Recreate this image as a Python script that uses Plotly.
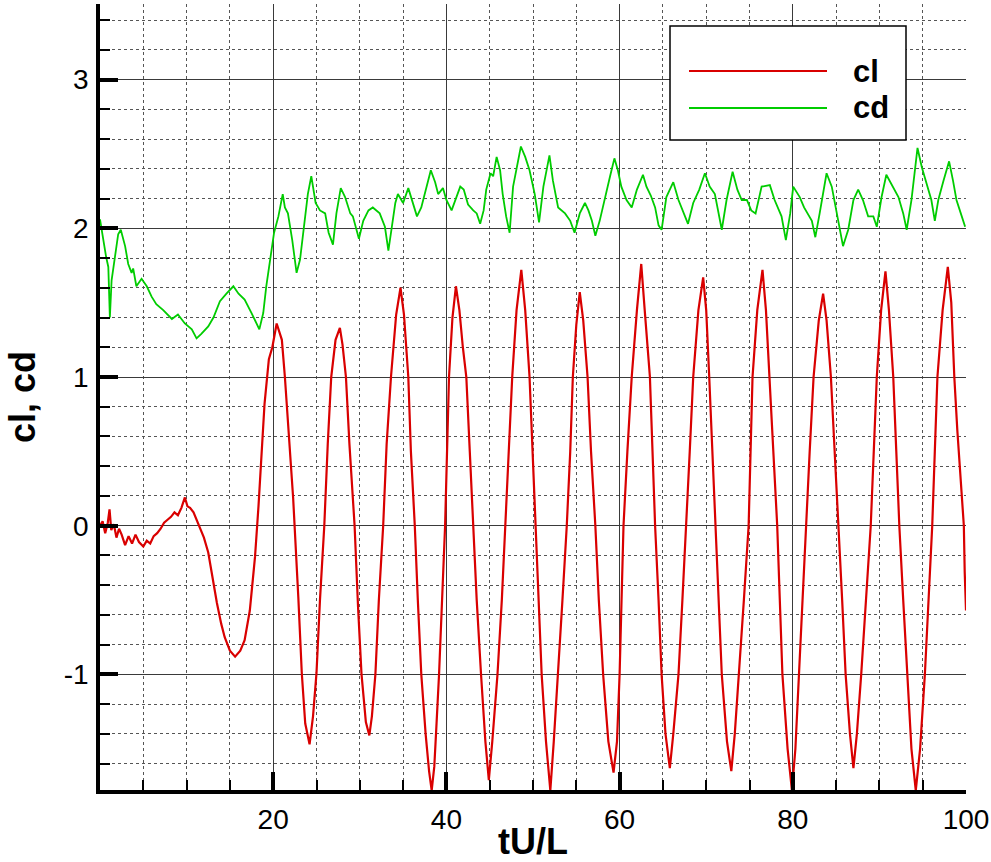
import plotly.graph_objects as go

# ---------------- data ----------------
series_names = ["cl", "cd"]

cl_t = [0.0, 0.3, 0.6, 0.9, 1.1, 1.3, 1.6, 1.9, 2.2, 2.5, 2.9, 3.3, 3.7, 4.1, 4.5, 5.0, 5.4, 5.8, 6.2, 6.6,
        7.0, 7.4, 7.8, 8.2, 8.6, 9.0, 9.4, 9.8, 10.1, 10.4, 10.8, 11.2, 11.6, 12.0, 12.5, 13.0, 13.5, 14.0,
        14.4, 15.0, 15.6, 16.2, 16.7, 17.3, 17.9, 18.3, 18.85, 19.0, 19.5, 19.9, 20.4, 21.0, 21.35, 21.7,
        22.3, 22.9, 23.3, 23.7, 24.2, 24.6, 25.0, 25.4, 25.9, 26.3, 26.7, 27.2, 27.7, 28.0, 28.4, 28.8,
        29.4, 29.8, 30.2, 30.7, 31.1, 31.4, 31.8, 32.2, 32.7, 33.1, 33.6, 34.2, 34.7, 35.1, 35.6, 35.9,
        36.35, 36.7, 37.1, 37.6, 38.0, 38.3, 38.6, 38.8, 39.15, 39.5, 39.85, 40.3, 40.7, 41.1, 41.5, 41.9,
        42.3, 42.7, 43.1, 43.5, 44.0, 44.5, 44.9, 45.3, 45.9, 46.4, 46.8, 47.2, 47.6, 48.1, 48.65, 49.1,
        49.6, 49.95, 50.3, 50.7, 51.0, 51.5, 52.0, 52.4, 52.9, 53.4, 53.9, 54.3, 54.6, 55.0, 55.4, 55.8,
        56.3, 56.7, 57.2, 57.6, 58.1, 58.7, 59.3, 59.7, 60.0, 60.2, 60.45, 60.9, 61.4, 62.0, 62.5, 62.9,
        63.5, 63.8, 64.1, 64.5, 64.85, 65.3, 65.8, 66.2, 66.8, 67.25, 67.7, 68.1, 68.5, 69.1, 69.65, 70.0,
        70.35, 70.7, 71.1, 71.45, 71.8, 72.4, 72.9, 73.3, 73.8, 74.35, 74.9, 75.1, 75.35, 75.9, 76.5, 76.9,
        77.3, 77.75, 78.2, 78.5, 78.8, 79.4, 79.9, 80.3, 80.7, 81.1, 81.5, 81.95, 82.4, 83.0, 83.5, 83.9,
        84.4, 84.85, 85.3, 85.7, 86.1, 86.6, 87.0, 87.4, 87.9, 88.45, 89.0, 89.35, 89.7, 90.2, 90.7, 91.1,
        91.6, 91.95, 92.3, 92.75, 93.2, 93.7, 94.2, 94.7, 95.25, 95.7, 96.1, 96.4, 96.7, 97.3, 97.9, 98.3,
        98.65, 99.0, 99.4, 99.75, 99.85, 99.9, 100.0]
cl_v = [0.00, 0.03, -0.05, 0.02, 0.11, -0.03, 0.01, -0.08, -0.02, -0.06, -0.13, -0.07, -0.12, -0.06, -0.11,
        -0.14, -0.10, -0.12, -0.07, -0.05, -0.02, 0.02, 0.04, 0.06, 0.09, 0.07, 0.12, 0.19, 0.13, 0.12, 0.09,
        0.03, -0.02, -0.08, -0.18, -0.35, -0.52, -0.66, -0.75, -0.84, -0.88, -0.84, -0.77, -0.57, -0.21, 0.13,
        0.64, 0.82, 1.12, 1.20, 1.36, 1.25, 1.00, 0.71, 0.19, -0.48, -0.99, -1.33, -1.47, -1.28, -0.99, -0.50,
        0.00, 0.55, 1.00, 1.25, 1.33, 1.22, 1.00, 0.55, 0.00, -0.55, -1.00, -1.32, -1.41, -1.28, -1.00, -0.50,
        0.00, 0.55, 1.00, 1.42, 1.60, 1.42, 1.00, 0.50, 0.00, -0.50, -1.00, -1.40, -1.65, -1.78, -1.62, -1.40,
        -1.00, -0.50, 0.00, 1.00, 1.40, 1.61, 1.45, 1.20, 1.00, 0.50, 0.00, -0.50, -1.00, -1.45, -1.71, -1.45,
        -1.00, -0.50, 0.00, 0.55, 1.00, 1.45, 1.72, 1.45, 1.00, 0.50, 0.00, -0.50, -1.00, -1.45, -1.78, -1.45,
        -1.00, -0.50, 0.00, 0.50, 1.00, 1.35, 1.57, 1.38, 1.00, 0.50, 0.00, -0.50, -1.00, -1.45, -1.66, -1.45,
        -1.00, -0.50, 0.00, 0.50, 1.00, 1.45, 1.76, 1.45, 1.00, 0.50, 0.00, -0.50, -1.00, -1.40, -1.63, -1.40,
        -1.00, -0.50, 0.00, 0.50, 1.00, 1.45, 1.67, 1.45, 1.00, 0.50, 0.00, -0.50, -1.00, -1.45, -1.65, -1.40,
        -1.00, -0.50, 0.00, 0.50, 1.00, 1.45, 1.72, 1.45, 1.00, 0.50, 0.00, -0.50, -1.00, -1.50, -1.78, -1.50,
        -1.00, -0.50, 0.00, 0.50, 1.00, 1.38, 1.56, 1.38, 1.00, 0.50, 0.00, -0.50, -1.00, -1.40, -1.63, -1.40,
        -1.00, -0.50, 0.00, 0.50, 1.00, 1.45, 1.71, 1.45, 1.00, 0.50, 0.00, -0.50, -1.00, -1.50, -1.78, -1.50,
        -1.00, -0.50, 0.00, 0.50, 1.00, 1.45, 1.74, 1.50, 1.00, 0.64, 0.30, 0.00, -0.31, -0.41, -0.57]

cd_t = [0.0, 0.4, 0.7, 0.96, 1.14, 1.34, 1.72, 2.1, 2.4, 2.9, 3.26, 3.65, 3.83, 4.2, 4.8, 5.4, 5.96,
        6.5, 7.3, 8.3, 9.0, 9.8, 10.6, 11.15, 11.7, 12.5, 13.1, 13.85, 14.6, 15.4, 16.0, 16.7, 17.5, 18.1,
        18.4, 18.85, 19.2, 19.7, 20.1, 20.6, 21.1, 21.35, 21.7, 22.2, 22.7, 23.1, 23.5, 24.0, 24.4, 24.9,
        25.4, 26.0, 26.4, 26.9, 27.3, 27.8, 28.3, 28.9, 29.2, 29.6, 29.9, 30.4, 31.0, 31.5, 32.3, 32.9,
        33.3, 33.7, 34.1, 34.4, 35.0, 35.6, 36.0, 36.6, 37.1, 37.7, 38.2, 38.7, 39.05, 39.6, 40.0, 40.6,
        41.0, 41.6, 42.0, 42.5, 43.1, 43.5, 43.9, 44.3, 44.6, 45.1, 45.4, 45.8, 46.2, 46.5, 46.9, 47.3,
        47.7, 48.2, 48.6, 49.1, 49.6, 50.2, 50.7, 51.2, 51.9, 52.3, 52.9, 53.7, 54.3, 54.8, 55.4, 56.0,
        56.4, 56.8, 57.2, 57.7, 58.3, 58.9, 59.4, 59.8, 60.2, 60.8, 61.4, 62.0, 62.7, 63.1, 63.6, 64.1,
        64.5, 64.85, 65.4, 66.2, 66.8, 67.3, 67.9, 68.5, 69.2, 69.85, 70.4, 71.0, 71.8, 72.35, 73.05,
        73.6, 74.1, 74.7, 75.2, 75.7, 76.4, 77.35, 77.9, 78.7, 79.2, 79.7, 80.05, 80.8, 81.3, 82.2, 82.6,
        83.1, 83.9, 84.5, 85.1, 85.8, 86.4, 87.0, 87.55, 88.1, 88.7, 89.3, 89.7, 90.25, 90.8, 91.5, 92.2,
        92.75, 93.15, 93.7, 94.1, 94.4, 94.9, 95.45, 96.0, 96.4, 96.8, 97.4, 98.05, 98.5, 98.9, 99.4, 99.9]
cd_v = [2.06, 1.90, 1.81, 1.74, 1.40, 1.65, 1.79, 1.96, 1.99, 1.88, 1.76, 1.70, 1.73, 1.61, 1.66, 1.61,
        1.54, 1.49, 1.45, 1.39, 1.42, 1.36, 1.32, 1.26, 1.29, 1.34, 1.40, 1.51, 1.56, 1.61, 1.56, 1.52, 1.43,
        1.35, 1.32, 1.43, 1.61, 1.81, 1.97, 2.08, 2.23, 2.14, 2.10, 1.92, 1.70, 1.79, 1.99, 2.23, 2.35, 2.17,
        2.12, 2.10, 1.97, 1.89, 2.10, 2.27, 2.21, 2.10, 2.08, 1.99, 1.93, 2.05, 2.12, 2.14, 2.10, 2.01, 1.85,
        2.01, 2.17, 2.23, 2.17, 2.27, 2.19, 2.08, 2.14, 2.28, 2.39, 2.31, 2.23, 2.27, 2.19, 2.12, 2.19, 2.28,
        2.26, 2.16, 2.12, 2.10, 2.03, 2.12, 2.26, 2.37, 2.35, 2.48, 2.39, 2.23, 2.08, 1.97, 2.28, 2.44, 2.55,
        2.48, 2.39, 2.23, 2.04, 2.28, 2.49, 2.32, 2.14, 2.10, 2.05, 1.97, 2.10, 2.17, 2.12, 2.05, 1.95, 2.05,
        2.19, 2.35, 2.47, 2.39, 2.28, 2.19, 2.14, 2.26, 2.36, 2.28, 2.22, 2.14, 2.02, 1.99, 2.21, 2.31, 2.19,
        2.12, 2.03, 2.17, 2.26, 2.37, 2.28, 2.23, 1.99, 2.19, 2.38, 2.26, 2.19, 2.19, 2.12, 2.10, 2.28, 2.29,
        2.19, 2.08, 1.92, 2.10, 2.28, 2.21, 2.14, 2.05, 1.94, 2.10, 2.37, 2.28, 2.10, 1.88, 1.99, 2.19, 2.26,
        2.19, 2.08, 2.08, 2.01, 2.21, 2.36, 2.28, 2.21, 2.10, 1.99, 2.19, 2.39, 2.54, 2.41, 2.30, 2.19, 2.05,
        2.19, 2.32, 2.45, 2.32, 2.19, 2.10, 2.01]

x_tick_vals = [20, 40, 60, 80, 100]
x_tick_text = ["20", "40", "60", "80", "100"]
y_tick_vals = [-1, 0, 1, 2, 3]
y_tick_text = ["-1", "0", "1", "2", "3"]

x_title = "tU/L"
y_title = "cl, cd"

# ---------------- styling ----------------
colors = ["#d90000", "#00cc00"]
FONT = "Liberation Sans, Arial, Helvetica, sans-serif"

fig = go.Figure()
fig.add_trace(go.Scatter(x=cl_t, y=cl_v, mode="lines", name=series_names[0],
                         line=dict(color=colors[0], width=2.2), showlegend=False))
fig.add_trace(go.Scatter(x=cd_t, y=cd_v, mode="lines", name=series_names[1],
                         line=dict(color=colors[1], width=1.8), showlegend=False))

axis_common = dict(
    showline=True, linecolor="black", linewidth=3.5, mirror=False,
    ticks="inside", ticklen=18, tickwidth=4, tickcolor="black",
    showgrid=True, gridcolor="#3a3a3a", gridwidth=1,
    zeroline=False, automargin=False,
    tickfont=dict(family=FONT, size=28, color="black"),
)

fig.update_xaxes(
    **axis_common,
    range=[0, 100], tickmode="array", tickvals=x_tick_vals, ticktext=x_tick_text,
    minor=dict(tickmode="linear", tick0=0, dtick=5, ticks="inside", ticklen=10, tickwidth=2,
               tickcolor="black", showgrid=True, gridcolor="#555555", griddash="dot", gridwidth=1),
    title=dict(text=x_title, font=dict(family=FONT, size=36, color="black", weight="bold"), standoff=1),
    ticklabelstandoff=2,
)
fig.update_yaxes(
    **axis_common,
    range=[-1.777, 3.508], tickmode="array", tickvals=y_tick_vals, ticktext=y_tick_text,
    minor=dict(tickmode="linear", tick0=0, dtick=0.2, ticks="inside", ticklen=10, tickwidth=2,
               tickcolor="black", showgrid=True, gridcolor="#555555", griddash="dot", gridwidth=1),
    title=dict(text=y_title, font=dict(family=FONT, size=36, color="black", weight="bold"), standoff=18),
    ticklabelstandoff=2,
)

# ---------------- legend box (drawn in paper coordinates) ----------------
PL, PR, PT, PB = 100, 966, 4, 790
def px(xp):
    return (xp - PL) / (PR - PL)
def py(yp):
    return (PB - yp) / (PB - PT)

shapes = [
    dict(type="rect", xref="paper", yref="paper", x0=px(670), x1=px(906), y0=py(140), y1=py(26),
         line=dict(color="black", width=1.5), fillcolor="white", layer="above"),
]
legend_y = [71, 108]
annotations = []
for name, col, ly in zip(series_names, colors, legend_y):
    shapes.append(dict(type="line", xref="paper", yref="paper", x0=px(689), x1=px(827),
                       y0=py(ly), y1=py(ly), line=dict(color=col, width=2.2), layer="above"))
    annotations.append(dict(xref="paper", yref="paper", x=px(851), y=py(ly), xanchor="left",
                            yanchor="middle", text=f"<b>{name}</b>", showarrow=False,
                            font=dict(family=FONT, size=31, color="black")))

fig.update_layout(
    width=991, height=862,
    margin=dict(l=PL, r=991 - PR, t=PT, b=862 - PB, pad=0),
    paper_bgcolor="white", plot_bgcolor="white",
    shapes=shapes, annotations=annotations,
    font=dict(family=FONT, color="black"),
)

fig.write_html("out.html")
